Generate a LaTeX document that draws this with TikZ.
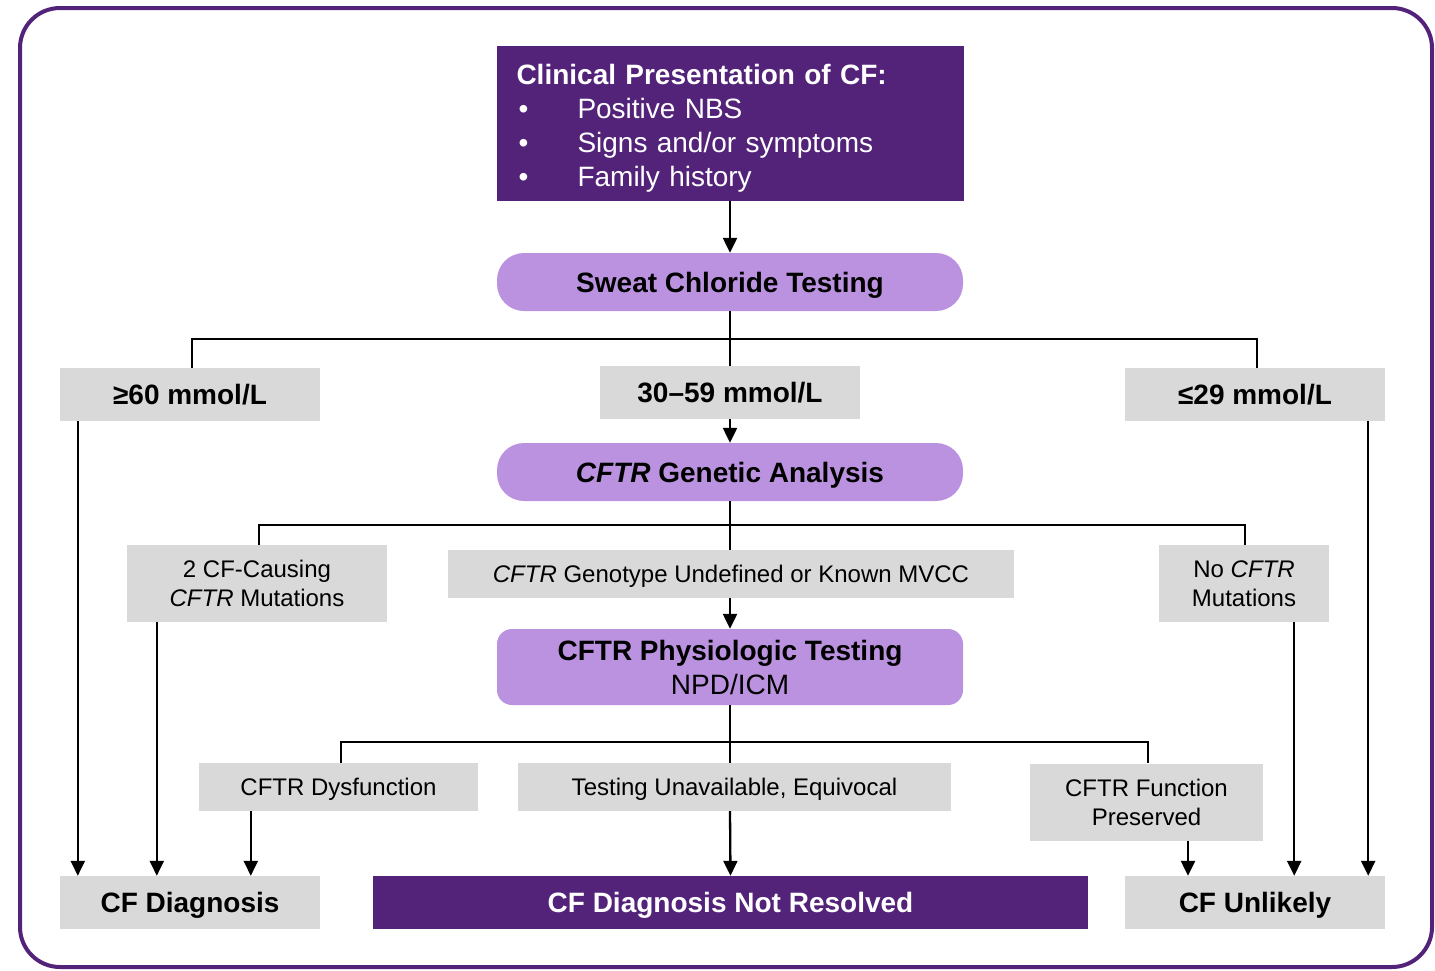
\documentclass[tikz,border=0pt]{standalone}
\usepackage{fontspec}
\setmainfont{Liberation Sans}
\usetikzlibrary{arrows.meta,calc}
\definecolor{cfpurple}{HTML}{53237A}
\definecolor{cfpill}{HTML}{BB92E0}
\definecolor{cfgray}{HTML}{D9D9D9}
\begin{document}
\begin{tikzpicture}[x=1pt,y=-1pt,
  big/.style={font=\fontsize{28}{34}\selectfont},
  small/.style={font=\fontsize{24}{29}\selectfont},
  graybox/.style={fill=cfgray, inner sep=0pt, align=center, text=black, text depth=0pt},
  pill/.style={fill=cfpill, inner sep=0pt, align=center, rounded corners=27pt, text=black, text depth=0pt},
  purplebox/.style={fill=cfpurple, inner sep=0pt, text=white, text depth=0pt},
  headbox/.style={fill=cfpurple, inner sep=0pt, text=white},
  ln/.style={line width=2.3pt, draw=black},
  arr/.style={ln, -{Triangle[length=15pt,width=14pt]}}
]
\useasboundingbox (0,0) rectangle (1435,970);
\draw[line width=4pt, draw=cfpurple, rounded corners=40pt] (20,8) rectangle (1432,967);

% nodes
\node[headbox, big, minimum width=467pt, minimum height=155pt, text width=427pt, align=left, inner xsep=20pt] (top) at (730,123.5)
  {\rule{0pt}{30pt}\textbf{Clinical Presentation of CF:}\\
   \makebox[61pt][l]{\hspace{2pt}•}Positive NBS\\
   \makebox[61pt][l]{\hspace{2pt}•}Signs and/or symptoms\\
   \makebox[61pt][l]{\hspace{2pt}•}Family history};
\node[pill, big, minimum width=466pt, minimum height=58pt] (sweat) at (730,282) {\textbf{Sweat Chloride Testing}};
\node[graybox, big, minimum width=260pt, minimum height=53pt] (g60) at (190,394.5) {\textbf{≥60 mmol/L}};
\node[graybox, big, minimum width=260pt, minimum height=53pt] (mid) at (730,392.5) {\textbf{30–59 mmol/L}};
\node[graybox, big, minimum width=260pt, minimum height=53pt] (l29) at (1255,394.5) {\textbf{≤29 mmol/L}};
\node[pill, big, minimum width=466pt, minimum height=58pt] (gen) at (730,472) {\textbf{\textit{CFTR} Genetic Analysis}};
\node[graybox, small, minimum width=260pt, minimum height=77pt] (two) at (257,583.5) {2 CF-Causing\\\textit{CFTR} Mutations};
\node[graybox, small, minimum width=566pt, minimum height=48pt] (undef) at (731,574) {\textit{CFTR} Genotype Undefined or Known MVCC};
\node[graybox, small, minimum width=170pt, minimum height=77pt] (nocf) at (1244,583.5) {No \textit{CFTR}\\Mutations};
\node[pill, big, rounded corners=15pt, minimum width=466pt, minimum height=76pt] (phys) at (730,667) {\textbf{CFTR Physiologic Testing}\\NPD/ICM};
\node[graybox, small, minimum width=279pt, minimum height=48pt] (dys) at (338.5,787) {CFTR Dysfunction};
\node[graybox, small, minimum width=433pt, minimum height=48pt] (unav) at (734.5,787) {Testing Unavailable, Equivocal};
\node[graybox, small, minimum width=233pt, minimum height=77pt] (pres) at (1146.5,802) {CFTR Function\\Preserved};
\node[graybox, big, minimum width=260pt, minimum height=53pt] (cfd) at (190,902.5) {\textbf{CF Diagnosis}};
\node[purplebox, big, minimum width=715pt, minimum height=53pt] (nr) at (730.5,902.5) {\textbf{CF Diagnosis Not Resolved}};
\node[graybox, big, minimum width=260pt, minimum height=53pt] (unl) at (1255,902.5) {\textbf{CF Unlikely}};

% connectors
\draw[arr] (top.south) -- (sweat.north);
\draw[ln] (sweat.south) -- (mid.north);
\draw[ln] ($(sweat.south)+(0,28)$) -| ([xshift=2pt]g60.north);
\draw[ln] ($(sweat.south)+(0,28)$) -| ([xshift=2pt]l29.north);
\draw[arr] (mid.south) -- (gen.north);
\draw[ln] (gen.south) -- (gen.south |- undef.north);
\draw[ln] ($(gen.south)+(0,24)$) -| ([xshift=2pt]two.north);
\draw[ln] ($(gen.south)+(0,24)$) -| ([xshift=1pt]nocf.north);
\draw[arr] (gen.south |- undef.south) -- (phys.north);
\draw[ln] (phys.south) -- (phys.south |- unav.north);
\draw[ln] ($(phys.south)+(0,37)$) -| ([xshift=2.5pt]dys.north);
\draw[ln] ($(phys.south)+(0,37)$) -| ([xshift=1.5pt]pres.north);
\draw[arr] (phys.south |- unav.south) -- (nr.north);
% into CF Diagnosis
\draw[arr] ([xshift=18pt]g60.south west) -- ([xshift=18pt]g60.south west |- cfd.north);
\draw[arr] ([xshift=30pt]two.south west) -- ([xshift=30pt]two.south west |- cfd.north);
\draw[arr] ([xshift=52pt]dys.south west) -- ([xshift=52pt]dys.south west |- cfd.north);
% into CF Unlikely
\draw[arr] ([xshift=41.5pt]pres.south) -- ([xshift=41.5pt]pres.south |- unl.north);
\draw[arr] ([xshift=-35pt]nocf.south east) -- ([xshift=-35pt]nocf.south east |- unl.north);
\draw[arr] ([xshift=-17pt]l29.south east) -- ([xshift=-17pt]l29.south east |- unl.north);
\end{tikzpicture}
\end{document}
